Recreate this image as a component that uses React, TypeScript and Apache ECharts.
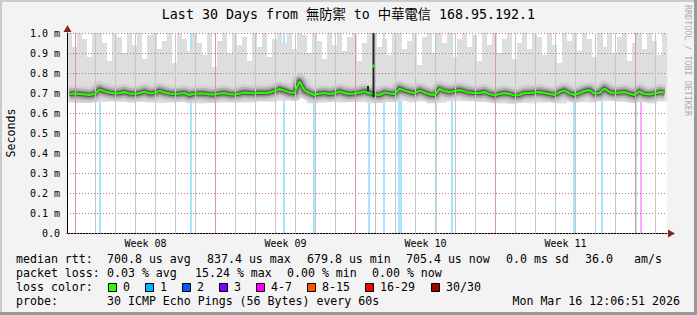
import React, { useEffect, useRef } from 'react';
import * as echarts from 'echarts';

// ---------- data ----------
const TITLE = 'Last 30 Days from 無防禦 to 中華電信 168.95.192.1';
const STEP = 0.25; // days per sample (30 days total)

// median RTT in ms, one value every 6 hours
const median = [
  0.695, 0.697, 0.695, 0.693, 0.690, 0.695, 0.718, 0.708, 0.702, 0.698,
  0.700, 0.705, 0.697, 0.695, 0.700, 0.707, 0.698, 0.700, 0.711, 0.703,
  0.698, 0.695, 0.697, 0.700, 0.690, 0.696, 0.698, 0.697, 0.693, 0.692,
  0.697, 0.700, 0.694, 0.693, 0.697, 0.703, 0.700, 0.699, 0.701, 0.700,
  0.703, 0.710, 0.720, 0.712, 0.703, 0.700, 0.758, 0.712, 0.700, 0.690,
  0.698, 0.700, 0.695, 0.700, 0.708, 0.700, 0.695, 0.697, 0.702, 0.708,
  0.700, 0.692, 0.690, 0.702, 0.698, 0.695, 0.722, 0.712, 0.705, 0.700,
  0.712, 0.703, 0.693, 0.690, 0.720, 0.710, 0.705, 0.710, 0.715, 0.708,
  0.702, 0.700, 0.700, 0.705, 0.695, 0.688, 0.695, 0.700, 0.695, 0.688,
  0.690, 0.700, 0.700, 0.702, 0.705, 0.700, 0.695, 0.690, 0.705, 0.713,
  0.698, 0.690, 0.700, 0.710, 0.715, 0.697, 0.700, 0.722, 0.705, 0.700,
  0.702, 0.705, 0.697, 0.690, 0.708, 0.695, 0.692, 0.697, 0.705, 0.702,
];

// upper edge of the smoke (ms), every 6 hours
const smokeMax = [
  1.0, 0.93, 1.0, 0.97, 0.88, 1.0, 1.0, 0.95, 0.86, 1.0,
  0.98, 0.9, 1.0, 0.94, 1.0, 0.87, 0.99, 1.0, 0.92, 0.96,
  1.0, 0.85, 1.0, 0.97, 0.91, 1.0, 0.95, 0.89, 1.0, 0.83,
  0.96, 1.0, 0.9, 1.0, 0.94, 0.98, 0.86, 1.0, 0.93, 1.0,
  0.88, 0.97, 1.0, 0.95, 1.0, 0.92, 1.0, 0.99, 0.9, 1.0,
  0.96, 0.87, 1.0, 0.94, 1.0, 0.91, 0.98, 1.0, 0.86, 0.95,
  1.0, 1.0, 0.93, 0.97, 0.89, 1.0, 1.0, 0.92, 0.96, 1.0,
  0.84, 0.98, 1.0, 0.9, 1.0, 0.95, 1.0, 0.88, 0.97, 1.0,
  0.93, 0.99, 0.86, 1.0, 0.94, 1.0, 0.9, 0.97, 1.0, 0.87,
  0.95, 1.0, 0.92, 1.0, 0.98, 0.89, 1.0, 0.94, 0.85, 1.0,
  0.96, 1.0, 0.91, 1.0, 0.97, 0.88, 1.0, 0.93, 1.0, 0.9,
  0.98, 1.0, 0.86, 0.95, 1.0, 0.92, 1.0, 0.96, 0.89, 1.0,
];

// lower edge of the smoke (ms), every 12 hours
const smokeMin = [
  0.652, 0.650, 0.652, 0.655, 0.658, 0.655, 0.652, 0.655, 0.652, 0.650,
  0.652, 0.655, 0.648, 0.648, 0.650, 0.652, 0.655, 0.652, 0.652, 0.658,
  0.655, 0.660, 0.665, 0.690, 0.648, 0.652, 0.655, 0.652, 0.658, 0.655,
  0.648, 0.652, 0.655, 0.660, 0.652, 0.658, 0.648, 0.652, 0.658, 0.660,
  0.658, 0.655, 0.652, 0.648, 0.645, 0.652, 0.648, 0.652, 0.655, 0.648,
  0.658, 0.655, 0.652, 0.658, 0.660, 0.655, 0.652, 0.655, 0.648, 0.658,
];

// dense ping bursts: [day, low, high, median]
const bursts = [
  [15.05, 0.69, 0.735, 0.70],
  [15.325, 0.68, 1.0, 0.835],
];

// loss events: [day, lost pings of 30]
const lossEvents = [
  [1.65, 1], [6.2, 1], [10.85, 1], [12.35, 1], [15.1, 1], [15.85, 1],
  [16.6, 1], [16.7, 1], [18.45, 1], [19.25, 1], [25.35, 1], [26.75, 1],
  [28.45, 1], [28.7, 5],
];

const FIRST_MIDNIGHT = 0.425; // day offset of first day boundary
const DAYS = 30;
const weekLabels = ['Week 08', 'Week 09', 'Week 10', 'Week 11'];

const lossLabels = ['0', '1', '2', '3', '4-7', '8-15', '16-29', '30/30'];
const lossColors = ['#26ff00', '#00b8ff', '#0059ff', '#7e00ff', '#ff00ff', '#ff5500', '#ff0000', '#a10000'];
const lossUpper = [0, 1, 2, 3, 7, 15, 29, 30];

const rttLabel = 'median rtt:';
const rttValues = ['700.8 us avg', '837.4 us max', '679.8 us min', '705.4 us now', '0.0 ms sd', '36.0', 'am/s'];
const lossLabel = 'packet loss:';
const lossValues = ['0.03 % avg', '15.24 % max', '0.00 % min', '0.00 % now'];
const colorLabel = 'loss color:';
const probeLabel = 'probe:';
const probeText = '30 ICMP Echo Pings (56 Bytes) every 60s';
const stamp = 'Mon Mar 16 12:06:51 2026';
const watermark = 'RRDTOOL / TOBI OETIKER';

// ---------- layout ----------
const FONT = "'DejaVu Sans Mono', 'Noto Sans CJK TC', monospace";
const rttX = [107, 207, 307, 406, 506, 585, 634];
const lossX = [107, 195, 287, 372];
const boxX = [108, 145, 182, 219, 256, 307, 365, 431];
const rowY = [259, 273, 287, 301];
const MINOR_GRID = '#c6c6c6';
const MAJOR_GRID_V = '#dc9898';
const MAJOR_GRID = '#c46e6e';

function lossColorFor(n: number) {
  const idx = lossUpper.findIndex((u) => n <= u);
  return lossColors[idx < 0 ? lossColors.length - 1 : idx];
}

function legendText(text: string, x: number, y: number, align = 'left') {
  return {
    type: 'text',
    x,
    y,
    z: 10,
    style: {
      text,
      fill: '#000',
      font: `11.6px ${FONT}`,
      textAlign: align,
      align,
      textVerticalAlign: 'middle',
      verticalAlign: 'middle',
    },
  };
}

export default function App() {
  const ref = useRef<HTMLDivElement>(null);

  useEffect(() => {
    document.body.style.margin = '0';
    const chart = echarts.init(ref.current!, undefined, { renderer: 'svg' });

    // vertical grid: [day, isWeekBoundary]
    const dayGrid = Array.from({ length: DAYS }, (_, k) => [FIRST_MIDNIGHT + k, k % 7 === 0 ? 1 : 0]);
    const weekCenters = weekLabels.map((_, k) => FIRST_MIDNIGHT + 3.5 + 7 * k);

    const medianData = median.map((v, i) => [(i + 0.5) * STEP, v]);
    const smokeData = smokeMax.map((hi, i) => [i * STEP, smokeMin[Math.floor(i / 2)], hi]);

    const smokeBand = (width: number, color: string) => ({
      type: 'line',
      data: medianData,
      showSymbol: false,
      silent: true,
      z: 2,
      lineStyle: { width, color, cap: 'butt', join: 'round' },
    });

    const graphic: any[] = [
      // frame shading
      { type: 'rect', shape: { x: 0, y: 0, width: 697, height: 2 }, style: { fill: '#cbcbcb' } },
      { type: 'rect', shape: { x: 0, y: 0, width: 2, height: 315 }, style: { fill: '#cbcbcb' } },
      { type: 'rect', shape: { x: 0, y: 312, width: 697, height: 3 }, style: { fill: '#999999' } },
      { type: 'rect', shape: { x: 694, y: 0, width: 3, height: 315 }, style: { fill: '#999999' } },
      // title
      {
        type: 'text', x: 348.5, y: 14, z: 10,
        style: { text: TITLE, fill: '#000', font: `13.3px ${FONT}`, textAlign: 'center', align: 'center', textVerticalAlign: 'middle', verticalAlign: 'middle' },
      },
      // y-axis name
      {
        type: 'text', x: 11, y: 133, rotation: Math.PI / 2, z: 10,
        style: { text: 'Seconds', fill: '#000', font: `11.6px ${FONT}`, textAlign: 'center', align: 'center', textVerticalAlign: 'middle', verticalAlign: 'middle' },
      },
      // watermark
      {
        type: 'text', x: 688, y: 5, rotation: -Math.PI / 2, z: 10,
        style: { text: watermark, fill: '#adadad', font: `8.4px ${FONT}`, textAlign: 'left', align: 'left', textVerticalAlign: 'middle', verticalAlign: 'middle' },
      },
      // axis arrows
      { type: 'polygon', z: 10, shape: { points: [[67.5, 25], [63.5, 32], [71.5, 32]] }, style: { fill: '#8f1f1f' } },
      { type: 'polygon', z: 10, shape: { points: [[675, 233.5], [668, 229.5], [668, 237.5]] }, style: { fill: '#8f1f1f' } },
      // legend
      legendText(rttLabel, 16, rowY[0]),
      ...rttValues.map((t, i) => legendText(t, rttX[i], rowY[0])),
      legendText(lossLabel, 16, rowY[1]),
      ...lossValues.map((t, i) => legendText(t, lossX[i], rowY[1])),
      legendText(colorLabel, 16, rowY[2]),
      ...lossLabels.map((t, i) => legendText(t, boxX[i] + 15, rowY[2])),
      ...lossColors.map((c, i) => ({
        type: 'rect', z: 10,
        shape: { x: boxX[i] + 0.5, y: rowY[2] - 3.5, width: 8, height: 8 },
        style: { fill: c, stroke: '#000', lineWidth: 1 },
      })),
      legendText(probeLabel, 16, rowY[3]),
      legendText(probeText, 107, rowY[3]),
      legendText(stamp, 680, rowY[3], 'right'),
    ];

    const option: any = {
      animation: false,
      backgroundColor: '#f3f3f3',
      grid: { left: 67, top: 33, width: 600, height: 200, show: true, backgroundColor: '#ffffff', borderWidth: 0 },
      xAxis: {
        type: 'value',
        min: 0,
        max: DAYS,
        axisLine: { show: true, lineStyle: { color: '#000', width: 1 } },
        axisTick: { show: false },
        splitLine: { show: false },
        axisLabel: {
          customValues: weekCenters,
          margin: 5,
          color: '#000',
          fontFamily: FONT,
          fontSize: 10,
          formatter: (v: number) => {
            const k = weekCenters.findIndex((c) => Math.abs(c - v) < 1e-6);
            return k >= 0 ? weekLabels[k] : '';
          },
        },
      },
      yAxis: {
        type: 'value',
        min: 0,
        max: 1,
        interval: 0.1,
        z: 3,
        axisLine: { show: true, lineStyle: { color: '#000', width: 1 } },
        axisTick: { show: false },
        splitLine: { show: true, lineStyle: { color: MAJOR_GRID, type: [1, 2], width: 1 } },
        axisLabel: {
          margin: 7,
          color: '#000',
          fontFamily: FONT,
          fontSize: 10,
          formatter: (v: number) => (v === 0 ? '0.0' : `${v.toFixed(1)} m`),
        },
      },
      graphic,
      series: [
        {
          type: 'custom',
          name: 'loss',
          silent: true,
          z: 1,
          data: lossEvents,
          renderItem: (_p: any, api: any) => {
            const d = api.value(0);
            const top = api.coord([d, 1]);
            const bot = api.coord([d, 0]);
            return {
              type: 'rect',
              shape: { x: Math.round(top[0]) - 1, y: top[1], width: 2, height: bot[1] - top[1] },
              style: { fill: lossColorFor(api.value(1)), opacity: 0.35 },
            };
          },
        },
        {
          type: 'custom',
          name: 'smoke',
          silent: true,
          z: 2,
          data: smokeData,
          renderItem: (_p: any, api: any) => {
            const x0 = api.value(0);
            const p1 = api.coord([x0, api.value(2)]);
            const p2 = api.coord([x0 + STEP, api.value(1)]);
            return {
              type: 'rect',
              shape: { x: p1[0], y: p1[1], width: p2[0] - p1[0], height: p2[1] - p1[1] },
              style: { fill: '#dedede' },
            };
          },
        },
        smokeBand(16, '#d0d0d0'),
        smokeBand(11, '#b4b4b4'),
        smokeBand(7, '#8c8c8c'),
        smokeBand(4, '#555555'),
        {
          type: 'custom',
          name: 'vgrid',
          silent: true,
          z: 3,
          data: dayGrid,
          renderItem: (_p: any, api: any) => {
            const d = api.value(0);
            const major = api.value(1) === 1;
            const top = api.coord([d, 1]);
            const bot = api.coord([d, 0]);
            return {
              type: 'rect',
              shape: { x: Math.floor(top[0]), y: top[1], width: 1, height: bot[1] - top[1] },
              style: { fill: major ? MAJOR_GRID_V : MINOR_GRID, opacity: 1 },
            };
          },
        },
        {
          type: 'line',
          name: 'median',
          data: medianData,
          showSymbol: false,
          silent: true,
          z: 4,
          lineStyle: { width: 2, color: '#26ff00' },
        },
        {
          type: 'custom',
          name: 'bursts',
          silent: true,
          z: 5,
          data: bursts,
          renderItem: (_p: any, api: any) => {
            const d = api.value(0);
            const hi = api.coord([d, api.value(2)]);
            const lo = api.coord([d, api.value(1)]);
            const md = api.coord([d, api.value(3)]);
            return {
              type: 'group',
              children: [
                { type: 'rect', shape: { x: hi[0] - 1, y: hi[1], width: 2, height: lo[1] - hi[1] }, style: { fill: '#222222' } },
                { type: 'rect', shape: { x: md[0] - 1, y: md[1] - 1.5, width: 2, height: 3 }, style: { fill: '#26ff00' } },
              ],
            };
          },
        },
      ],
    };

    chart.setOption(option);
    return () => chart.dispose();
  }, []);

  return <div ref={ref} style={{ width: 697, height: 315 }} />;
}
